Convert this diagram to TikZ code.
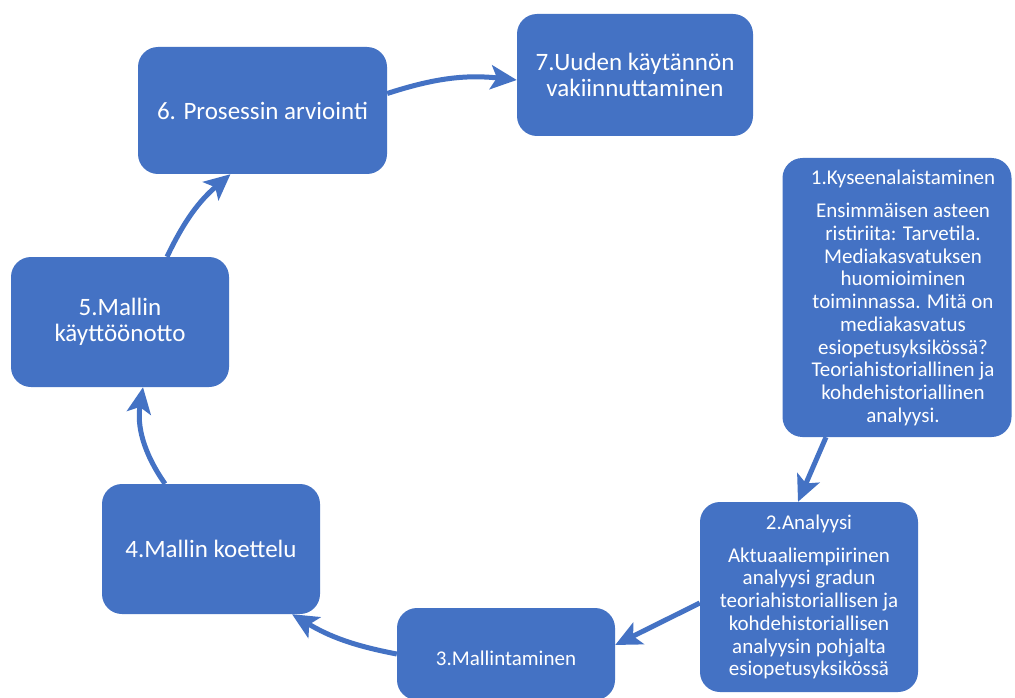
\documentclass[tikz,border=0pt]{standalone}
\usepackage{fontspec}
\setmainfont{Carlito}
\usetikzlibrary{arrows.meta,calc}
\definecolor{boxblue}{RGB}{68,114,196}
\begin{document}
\begin{tikzpicture}[x=1pt,y=-1pt,
  stepbox/.style={draw=none, fill=boxblue, rounded corners=20pt, text=white,
    align=center, inner sep=0pt, font=\fontsize{25}{26}\selectfont},
  smallbox/.style={stepbox, font=\fontsize{21}{22.7}\selectfont},
  boxtext/.style={text=white, align=center, inner sep=0pt, font=\fontsize{21}{22.7}\selectfont},
  flow/.style={draw=boxblue, line width=5pt,
    -{Stealth[length=26pt,width=24pt,inset=6pt]}}]
\useasboundingbox (0,0) rectangle (1015,698);
\fill[white] (0,0) rectangle (1015,698);

\node[stepbox, minimum width=249pt, minimum height=127pt] (n6) at (262.5,110.5)
  {6. Prosessin arviointi};
\node[stepbox, minimum width=236pt, minimum height=122pt] (n7) at (635,75)
  {7.Uuden käytännön\\vakiinnuttaminen};
\node[smallbox, minimum width=229pt, minimum height=279pt] (n1) at (897,297.5) {};
\node[boxtext] (n1t) at ($(n1.center)+(6,0)$)
  {1.Kyseenalaistaminen\\[11pt]
   Ensimmäisen asteen\\ristiriita: Tarvetila.\\Mediakasvatuksen\\huomioiminen\\
   toiminnassa. Mitä on\\mediakasvatus\\esiopetusyksikössä?\\
   Teoriahistoriallinen ja\\kohdehistoriallinen\\analyysi.};
\node[smallbox, minimum width=218pt, minimum height=190pt] (n2) at (809,597)
  {2.Analyysi\\[10pt]
   Aktuaaliempiirinen\\analyysi gradun\\teoriahistoriallisen ja\\
   kohdehistoriallisen\\analyysin pohjalta\\esiopetusyksikössä};
\node[smallbox, minimum width=218pt, minimum height=92pt] (n3) at (506,654) {};
\node[boxtext] (n3t) at ($(n3.center)+(0,4)$) {3.Mallintaminen};
\node[stepbox, minimum width=218pt, minimum height=130pt] (n4) at (211,549)
  {4.Mallin koettelu};
\node[stepbox, minimum width=218pt, minimum height=130pt] (n5) at (120,322)
  {5.Mallin\\käyttöönotto};

\draw[flow] ($(n1.south)+(-71,0)$) -- ($(n2.north)+(-11,0)$);
\draw[flow] ($(n2.west)+(0,6)$) -- ($(n3.east)+(0,-9)$);
\draw[flow] (n3.west) to[bend left=10] ($(n4.south)+(81,0)$);
\draw[flow] ($(n4.north)+(-46,0)$) to[bend left=22] ($(n5.south)+(23,0)$);
\draw[flow] ($(n5.north)+(47,0)$) to[bend left=12] ($(n6.south)+(-32,0)$);
\draw[flow] ($(n6.east)+(0,-17)$) to[bend left=12] ($(n7.west)+(0,5)$);
\end{tikzpicture}
\end{document}
